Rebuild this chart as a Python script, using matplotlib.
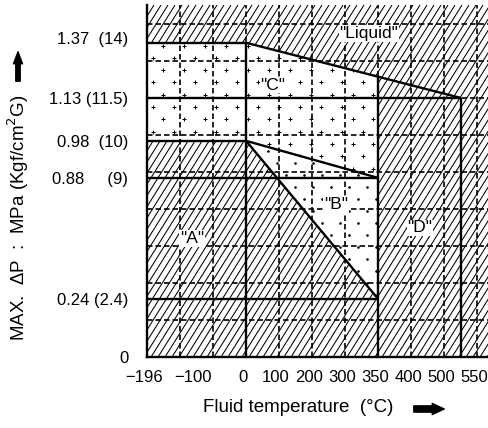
import numpy as np
import matplotlib
matplotlib.use('Agg')
import matplotlib.pyplot as plt
from matplotlib.patches import Polygon, FancyArrowPatch
from matplotlib.collections import LineCollection
from matplotlib.transforms import ScaledTranslation

plt.rcParams['font.family'] = ['Liberation Sans', 'DejaVu Sans']

# ---- chart values ----
temp_ticks = [-196, -100, 0, 100, 200, 300, 350, 400, 500, 550]
temp_labels = ['\u2212196', '\u2212100', '0', '100', '200', '300', '350', '400', '500', '550']
press_ticks = [0, 0.24, 0.88, 0.98, 1.13, 1.37]
press_labels = ['0', '0.24 (2.4)', '0.88     (9)', '0.98  (10)', '1.13 (11.5)', '1.37  (14)']

t_min, t_zero, t_mid, t_liq = -196, 0, 350, 525
p_a, p_b, p_c, p_d, p_e = 0.24, 0.88, 0.98, 1.13, 1.37

region_names = ['"A"', '"B"', '"C"', '"D"', '"Liquid"']
region_temp = [-107, 273, 82, 427, 336]
region_press = [0.56, 0.737, 1.186, 0.616, 1.41]

# ---- schematic (non linear) scales of the drawing ----
X_T = [-196, 0, 100, 200, 300, 350, 400, 500, 600]
X_P = [0, 3, 4, 5, 6, 7, 8, 9, 11]
Y_V = [0, 0.24, 0.88, 0.98, 1.13, 1.37, 1.70]
Y_P = [0, 1.57, 4.84, 5.84, 7.0, 8.49, 10.54]


def fx(t):
    return np.interp(t, X_T, X_P)


def ix(p):
    return np.interp(p, X_P, X_T)


def fy(v):
    return np.interp(v, Y_V, Y_P)


def iy(p):
    return np.interp(p, Y_P, Y_V)


fig = plt.figure(figsize=(4.89, 4.28), dpi=100)
W, H = 342, 352
ax = fig.add_axes([147 / 489, 71 / 428, W / 489, H / 428])
ax.set_xscale('function', functions=(fx, ix))
ax.set_yscale('function', functions=(fy, iy))
ax.set_xlim(-196, ix(10.36))
ax.set_ylim(0, iy(9.51))

# hatch over the whole field
ang = np.deg2rad(58)
step = 7.0
x0s = np.arange(-H / np.tan(ang) - step, W + step, step)
segs = [[((x0) / W, 0), ((x0 + H / np.tan(ang)) / W, 1)] for x0 in x0s]
ax.add_collection(LineCollection(segs, colors='black', linewidths=0.75,
                                 transform=ax.transAxes, zorder=1))

# top boundary crossing at 350 C
p_top350 = iy(np.interp(fx(t_mid), [fx(t_zero), fx(t_liq)], [fy(p_e), fy(p_d)]))

poly_c = Polygon([(t_min, p_c), (t_min, p_e), (t_zero, p_e), (t_mid, p_top350),
                  (t_mid, p_b), (t_zero, p_c)], closed=True,
                 facecolor='white', edgecolor='none', zorder=2)
poly_b = Polygon([(t_zero, p_c), (t_mid, p_b), (t_mid, p_a)], closed=True,
                 facecolor='white', edgecolor='none', zorder=2)
ax.add_patch(poly_c)
ax.add_patch(poly_b)


def pattern(dx, dy, ox, oy):
    pts = []
    for r, y in enumerate(np.arange(oy, H, dy)):
        off = (dx / 2) * (r % 2)
        for x in np.arange(ox + off, W, dx):
            pts.append((x / W, y / H))
    return np.array(pts)


pc = pattern(21, 12.3, 6, 4)
sc = ax.scatter(pc[:, 0], pc[:, 1], marker='+', s=12, linewidths=0.7,
                color='black', transform=ax.transAxes, zorder=3)
sc.set_clip_path(poly_c)
pb = pattern(18, 12, 4, 2)
sb = ax.scatter(pb[:, 0], pb[:, 1], marker='o', s=3.5, linewidths=0,
                color='black', transform=ax.transAxes, zorder=3)
sb.set_clip_path(poly_b)

# dashed grid
for k in range(1, 11):
    ax.axvline(ix(k), color='black', lw=1.2, ls=(0, (3.3, 1.8)), zorder=4)
for k in range(1, 10):
    ax.axhline(iy(k), color='black', lw=1.2, ls=(0, (3.3, 1.8)), zorder=4)

# boundaries
kw = dict(color='black', lw=1.7, zorder=5, solid_capstyle='butt')
ax.plot([t_min, t_zero], [p_e, p_e], **kw)
ax.plot([t_zero, t_liq], [p_e, p_d], **kw)
ax.plot([t_min, t_liq], [p_d, p_d], **kw)
ax.plot([t_min, t_zero], [p_c, p_c], **kw)
ax.plot([t_zero, t_mid], [p_c, p_b], **kw)
ax.plot([t_min, t_mid], [p_b, p_b], **kw)
ax.plot([t_zero, t_mid], [p_c, p_a], **kw)
ax.plot([t_min, t_mid], [p_a, p_a], **kw)
ax.plot([t_zero, t_zero], [0, p_e], **kw)
ax.plot([t_mid, t_mid], [0, p_top350], **kw)
ax.plot([t_liq, t_liq], [0, p_d], **kw)

for name, t, p in zip(region_names, region_temp, region_press):
    ax.text(t, p, name, ha='center', va='center', fontsize=12.5, zorder=6,
            bbox=dict(facecolor='white', edgecolor='none', pad=0.5))

for s in ['top', 'right']:
    ax.spines[s].set_visible(False)
for s in ['left', 'bottom']:
    ax.spines[s].set_linewidth(1.7)
    ax.spines[s].set_zorder(6)

ax.xaxis.set_minor_locator(matplotlib.ticker.NullLocator())
ax.yaxis.set_minor_locator(matplotlib.ticker.NullLocator())
ax.set_xticks(temp_ticks)
ax.set_xticklabels(temp_labels, fontsize=12)
ax.set_yticks(press_ticks)
ax.set_yticklabels(press_labels, fontsize=12)
ax.tick_params(axis='both', length=0)
ax.tick_params(axis='x', pad=9)
ax.tick_params(axis='y', pad=13.5)
shift = ScaledTranslation(-3 / 100, 0, fig.dpi_scale_trans)
for lab in ax.get_xticklabels():
    lab.set_transform(lab.get_transform() + shift)
top_lab = ax.get_yticklabels()[-1]
top_lab.set_transform(top_lab.get_transform() + ScaledTranslation(0, 5 / 100, fig.dpi_scale_trans))

fig.text(298 / 489, 1 - 408 / 428, 'Fluid temperature  (\u00b0C)', ha='center',
         va='center', fontsize=13.5)
fig.text(18 / 489, 1 - 218 / 428, 'MAX.  \u0394P  :  MPa (Kgf/cm$^2$G)', ha='center',
         va='center', rotation=90, fontsize=13.5)

up = FancyArrowPatch((18 / 489, 1 - 84 / 428), (18 / 489, 1 - 49 / 428),
                     transform=fig.transFigure, color='black', mutation_scale=10,
                     arrowstyle='simple,head_length=0.86,head_width=0.65,tail_width=0.32')
right = FancyArrowPatch((411 / 489, 1 - 409 / 428), (447 / 489, 1 - 409 / 428),
                        transform=fig.transFigure, color='black', mutation_scale=10,
                        arrowstyle='simple,head_length=0.86,head_width=0.8,tail_width=0.45')
fig.add_artist(up)
fig.add_artist(right)

fig.savefig('out.png', dpi=100)
